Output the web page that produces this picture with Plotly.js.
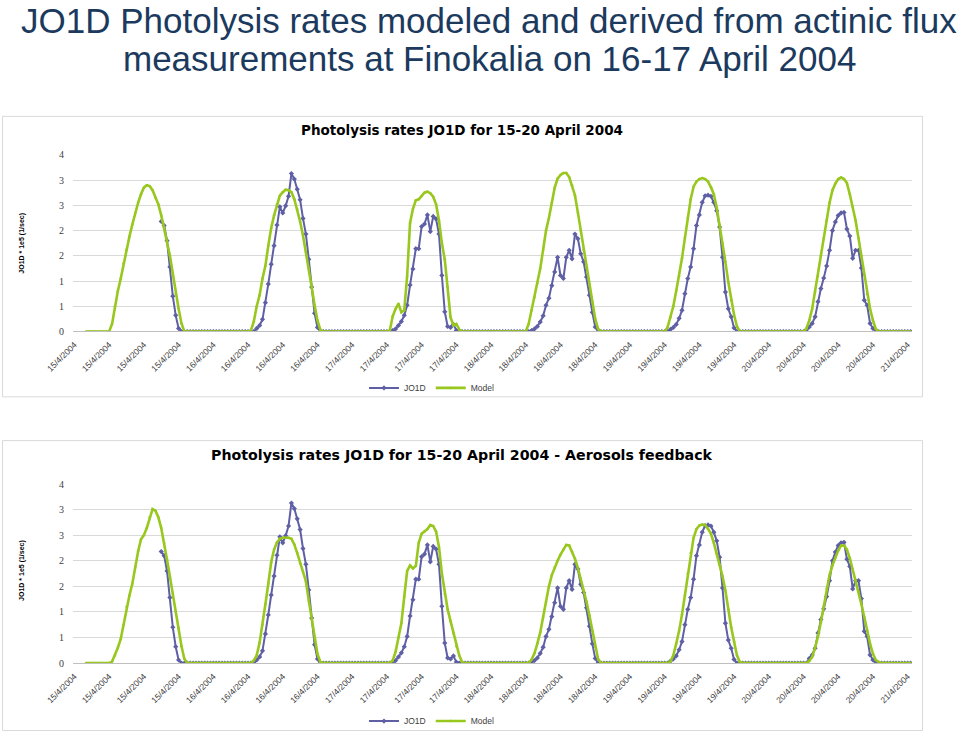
<!DOCTYPE html>
<html>
<head>
<meta charset="utf-8">
<script src="https://cdn.plot.ly/plotly-3.0.1.min.js"></script>
<style>
  html, body { margin: 0; padding: 0; background: #ffffff; }
  #chart { width: 960px; height: 736px; }
</style>
</head>
<body>
<div id="chart"></div>
<script>
// ---------------- DATA ----------------
// tick positions (hours since 15/4/2004 00:00) and their labels
const tickHours = [0,6,12,18,24,30,36,42,48,54,60,66,72,78,84,90,96,102,108,114,120,126,132,138,144];
const tickLabels = [
  '15/4/2004','15/4/2004','15/4/2004','15/4/2004',
  '16/4/2004','16/4/2004','16/4/2004','16/4/2004',
  '17/4/2004','17/4/2004','17/4/2004','17/4/2004',
  '18/4/2004','18/4/2004','18/4/2004','18/4/2004',
  '19/4/2004','19/4/2004','19/4/2004','19/4/2004',
  '20/4/2004','20/4/2004','20/4/2004','20/4/2004',
  '21/4/2004'
];
const yTickVals = [0,0.5,1,1.5,2,2.5,3,3.5];
const yTickText = ['0','1','1','2','2','3','3','4'];

// half-hourly values, 48 per day (00:00 ... 23:30), JO1D * 1e5 (1/sec)
// measured JO1D (derived from actinic flux)
const jo1d_15 = [null,null,null,null,null,null,null,null,null,null,null,null,
                 null,null,null,null,null,null,null,null,null,null,null,null,
                 null,null,null,null,null,null,2.18,2.10,1.80,1.28,0.70,0.32,
                 0.06,0,0,0,0,0,0,0,0,0,0,0];
const jo1d_16 = [0,0,0,0,0,0,0,0,0,0,0,0,
                 0,0,0,0.06,0.12,0.24,0.57,0.94,1.33,1.70,2.11,2.47,
                 2.35,2.49,2.68,3.13,3.02,2.82,2.61,2.24,1.93,1.43,0.88,0.36,
                 0.08,0,0,0,0,0,0,0,0,0,0,0];
const jo1d_17 = [0,0,0,0,0,0,0,0,0,0,0,0,
                 0,0,0.02,0.05,0.12,0.20,0.32,0.52,0.92,1.24,1.64,1.64,
                 2.08,2.13,2.31,1.98,2.28,2.23,1.93,1.11,0.39,0.10,0.08,0.14,
                 0.02,0,0,0,0,0,0,0,0,0,0,0];
const jo1d_18 = [0,0,0,0,0,0,0,0,0,0,0,0,
                 0,0,0.02,0.05,0.10,0.19,0.31,0.52,0.66,0.91,1.18,1.47,
                 1.11,1.05,1.47,1.61,1.44,1.93,1.84,1.54,1.38,1.08,0.72,0.38,
                 0.09,0,0,0,0,0,0,0,0,0,0,0];
const jo1d_19 = [0,0,0,0,0,0,0,0,0,0,0,0,
                 0,0,0.04,0.08,0.14,0.26,0.42,0.75,1.05,1.28,1.64,2.10,
                 2.31,2.56,2.69,2.70,2.68,2.56,2.39,2.07,1.47,0.78,0.45,0.29,
                 0.07,0,0,0,0,0,0,0,0,0,0,0];
const jo1d_20 = [0,0,0,0,0,0,0,0,0,0,0,0,
                 0,0,0.09,0.16,0.29,0.59,0.85,1.06,1.30,1.61,2.00,2.17,
                 2.30,2.35,2.36,2.03,1.89,1.45,1.61,1.61,1.26,0.62,0.52,0.16,
                 0.06,0,0,0,0,0,0,0,0,0,0,0];
const jo1d_21 = [0,0];

// model (top chart)
const model_15 = [null,null,null,null,0,0,0,0,0,0,0,0,
                  0,0.15,0.50,0.80,1.05,1.35,1.62,1.88,2.12,2.35,2.55,2.72,
                  2.85,2.90,2.88,2.80,2.65,2.52,2.30,2.05,1.80,1.50,1.15,0.75,
                  0.45,0.16,0,0,0,0,0,0,0,0,0,0];
const model_16 = [0,0,0,0,0,0,0,0,0,0,0,0,
                  0,0.02,0.20,0.50,0.72,1.05,1.30,1.70,2.05,2.30,2.52,2.69,
                  2.76,2.81,2.80,2.76,2.62,2.42,2.18,1.90,1.58,1.25,0.88,0.52,
                  0.22,0.03,0,0,0,0,0,0,0,0,0,0];
const model_17 = [0,0,0,0,0,0,0,0,0,0,0,0,
                  0,0.02,0.30,0.45,0.55,0.38,0.42,1.10,2.15,2.43,2.60,2.62,
                  2.68,2.75,2.77,2.74,2.67,2.52,2.20,1.75,1.43,0.88,0.28,0.12,
                  0.15,0.04,0,0,0,0,0,0,0,0,0,0];
const model_18 = [0,0,0,0,0,0,0,0,0,0,0,0,
                  0,0.15,0.42,0.68,0.95,1.25,1.62,2.00,2.25,2.55,2.85,3.03,
                  3.10,3.14,3.14,3.06,2.90,2.70,2.36,2.00,1.62,1.26,0.91,0.58,
                  0.25,0.05,0,0,0,0,0,0,0,0,0,0];
const model_19 = [0,0,0,0,0,0,0,0,0,0,0,0,
                  0,0.08,0.28,0.50,0.80,1.10,1.45,1.85,2.25,2.62,2.87,2.97,
                  3.02,3.04,3.02,2.97,2.86,2.72,2.45,2.12,1.75,1.38,0.98,0.62,
                  0.33,0.10,0,0,0,0,0,0,0,0,0,0];
const model_20 = [0,0,0,0,0,0,0,0,0,0,0,0,
                  0,0.06,0.22,0.45,0.78,1.10,1.50,1.85,2.20,2.55,2.80,2.93,
                  3.02,3.05,3.02,2.94,2.72,2.47,2.20,1.85,1.50,1.12,0.74,0.45,
                  0.22,0.05,0,0,0,0,0,0,0,0,0,0];
const model_21 = [0,0];

// model with aerosol feedback (bottom chart)
const aero_15 = [null,null,null,null,0,0,0,0,0,0,0,0,
                 0,0.03,0.15,0.30,0.47,0.75,1.10,1.32,1.55,1.88,2.18,2.42,
                 2.50,2.64,2.85,3.01,2.98,2.85,2.64,2.35,2.02,1.69,1.35,1.01,
                 0.68,0.33,0.08,0,0,0,0,0,0,0,0,0];
const aero_16 = [0,0,0,0,0,0,0,0,0,0,0,0,
                 0,0,0.05,0.15,0.40,0.75,1.15,1.55,1.97,2.22,2.36,2.43,
                 2.45,2.45,2.45,2.43,2.32,2.15,1.95,1.78,1.60,1.22,0.85,0.48,
                 0.18,0.02,0,0,0,0,0,0,0,0,0,0];
const aero_17 = [0,0,0,0,0,0,0,0,0,0,0,0,
                 0,0,0.05,0.22,0.50,0.78,1.30,1.80,1.91,1.85,1.90,2.35,
                 2.53,2.57,2.62,2.70,2.68,2.57,2.27,1.75,1.35,1.05,0.82,0.58,
                 0.33,0.15,0.02,0,0,0,0,0,0,0,0,0];
const aero_18 = [0,0,0,0,0,0,0,0,0,0,0,0,
                 0,0,0.07,0.19,0.38,0.60,0.90,1.20,1.50,1.72,1.87,2.00,
                 2.12,2.22,2.31,2.30,2.18,2.04,1.86,1.65,1.42,1.20,0.93,0.62,
                 0.32,0.08,0,0,0,0,0,0,0,0,0,0];
const aero_19 = [0,0,0,0,0,0,0,0,0,0,0,0,
                 0,0,0.03,0.15,0.38,0.63,0.95,1.32,1.75,2.15,2.45,2.62,
                 2.69,2.71,2.70,2.62,2.53,2.35,2.14,1.92,1.70,1.42,1.05,0.70,
                 0.42,0.15,0.02,0,0,0,0,0,0,0,0,0];
const aero_20 = [0,0,0,0,0,0,0,0,0,0,0,0,
                 0,0,0.04,0.12,0.30,0.52,0.80,1.12,1.46,1.72,1.91,2.06,
                 2.20,2.30,2.30,2.22,2.05,1.83,1.62,1.40,1.15,0.90,0.63,0.38,
                 0.18,0.06,0.02,0,0,0,0,0,0,0,0,0];
const aero_21 = [0,0];

const seriesNames = ['JO1D', 'Model'];
const mainTitle1 = 'JO1D Photolysis rates modeled and derived from actinic flux';
const mainTitle2 = 'measurements at Finokalia on 16-17 April 2004';
const topTitle = 'Photolysis rates JO1D for 15-20 April 2004';
const bottomTitle = 'Photolysis rates JO1D for 15-20 April 2004 - Aerosols feedback';
const yTitle = 'JO1D * 1e5 (1/sec)';

// ---------------- BUILD ----------------
const jo1d = [].concat(jo1d_15, jo1d_16, jo1d_17, jo1d_18, jo1d_19, jo1d_20, jo1d_21);
const model = [].concat(model_15, model_16, model_17, model_18, model_19, model_20, model_21);
const aero = [].concat(aero_15, aero_16, aero_17, aero_18, aero_19, aero_20, aero_21);
// time axis: half-hour slots from 15/4/2004 00:00
const hours = jo1d.map((_, i) => i * 0.5);

const W = 960, H = 736;
const px = v => v / W;
const py = v => 1 - v / H;

const purple = '#5E5FA5';
const green = '#98C71E';

function lineTrace(y, name, color, xa, ya, legend, isModel) {
  return {
    type: 'scatter', mode: 'lines+markers', x: hours, y: y, name: name,
    xaxis: xa, yaxis: ya, legend: legend, connectgaps: false,
    line: { color: color, width: isModel ? 2.6 : 2 },
    marker: isModel ? { color: color, size: 2.5, symbol: 'circle' }
                    : { color: purple, size: 4, symbol: 'diamond' },
    hoverinfo: 'skip'
  };
}

const data = [
  lineTrace(jo1d, seriesNames[0], purple, 'x', 'y', 'legend', false),
  lineTrace(model, seriesNames[1], green, 'x', 'y', 'legend', true),
  lineTrace(jo1d, seriesNames[0], purple, 'x2', 'y2', 'legend2', false),
  lineTrace(aero, seriesNames[1], green, 'x2', 'y2', 'legend2', true)
];

function xAxis(anchor) {
  return {
    domain: [px(73), px(912)], range: [-0.25, 144.75], anchor: anchor,
    tickmode: 'array', tickvals: tickHours, ticktext: tickLabels,
    tickangle: -45, ticks: '', showgrid: false, zeroline: false,
    showline: true, linecolor: '#BFBFBF', linewidth: 1,
    tickfont: { family: 'Liberation Sans, Arial, sans-serif', size: 8.5, color: '#404040' },
    ticklabelstandoff: 4, automargin: false, fixedrange: true
  };
}
function yAxis(anchor, top, bottom) {
  return {
    domain: [py(bottom), py(top)], range: [0, 3.5], anchor: anchor,
    tickmode: 'array', tickvals: yTickVals, ticktext: yTickText,
    ticks: '', showgrid: true, gridcolor: '#D9D9D9', gridwidth: 1,
    zeroline: false, showline: false,
    tickfont: { family: 'Liberation Serif, Times New Roman, serif', size: 10, color: '#404040' },
    ticklabelstandoff: 8, automargin: false, fixedrange: true
  };
}

const annFont = (size, color, bold, fam) => ({
  family: fam || 'Liberation Sans, Arial, sans-serif', size: size, color: color,
  weight: bold ? 'bold' : 'normal'
});

const layout = {
  width: W, height: H,
  margin: { l: 0, r: 0, t: 0, b: 0, pad: 0 },
  paper_bgcolor: '#ffffff', plot_bgcolor: '#ffffff',
  showlegend: true,
  xaxis: xAxis('y'),
  yaxis: yAxis('x', 155.7, 333.3),
  xaxis2: xAxis('y2'),
  yaxis2: yAxis('x2', 486.7, 666.7),
  legend: {
    orientation: 'h', x: px(364), xanchor: 'left', y: py(390), yanchor: 'middle',
    font: { family: 'Liberation Sans, Arial, sans-serif', size: 8.5, color: '#404040' },
    bgcolor: 'rgba(0,0,0,0)', itemwidth: 30, tracegroupgap: 0
  },
  legend2: {
    orientation: 'h', x: px(364), xanchor: 'left', y: py(725), yanchor: 'middle',
    font: { family: 'Liberation Sans, Arial, sans-serif', size: 8.5, color: '#404040' },
    bgcolor: 'rgba(0,0,0,0)', itemwidth: 30, tracegroupgap: 0
  },
  shapes: [
    { type: 'rect', xref: 'paper', yref: 'paper', x0: px(2.5), x1: px(922.5), y0: py(117), y1: py(399),
      line: { color: '#D9D9D9', width: 1 }, fillcolor: 'rgba(0,0,0,0)', layer: 'below' },
    { type: 'rect', xref: 'paper', yref: 'paper', x0: px(2.5), x1: px(922.5), y0: py(443), y1: py(734.5),
      line: { color: '#D9D9D9', width: 1 }, fillcolor: 'rgba(0,0,0,0)', layer: 'below' }
  ],
  annotations: [
    { text: mainTitle1, xref: 'paper', yref: 'paper', x: px(489), y: py(21), xanchor: 'center', yanchor: 'middle',
      showarrow: false, font: annFont(35, '#1B3A5E', false) },
    { text: mainTitle2, xref: 'paper', yref: 'paper', x: px(490), y: py(59), xanchor: 'center', yanchor: 'middle',
      showarrow: false, font: annFont(35, '#1B3A5E', false) },
    { text: topTitle, xref: 'paper', yref: 'paper', x: px(462), y: py(131), xanchor: 'center', yanchor: 'middle',
      showarrow: false, font: annFont(13.5, '#000000', true, 'DejaVu Sans, sans-serif') },
    { text: bottomTitle, xref: 'paper', yref: 'paper', x: px(462), y: py(457), xanchor: 'center', yanchor: 'middle',
      showarrow: false, font: annFont(14.2, '#000000', true, 'DejaVu Sans, sans-serif') },
    { text: yTitle, xref: 'paper', yref: 'paper', x: px(22), y: py(245), xanchor: 'center', yanchor: 'middle',
      textangle: -90, showarrow: false, font: annFont(7, '#000000', true) },
    { text: yTitle, xref: 'paper', yref: 'paper', x: px(22), y: py(574), xanchor: 'center', yanchor: 'middle',
      textangle: -90, showarrow: false, font: annFont(7, '#000000', true) }
  ]
};

Plotly.newPlot('chart', data, layout, { staticPlot: true, displayModeBar: false });
</script>
</body>
</html>
